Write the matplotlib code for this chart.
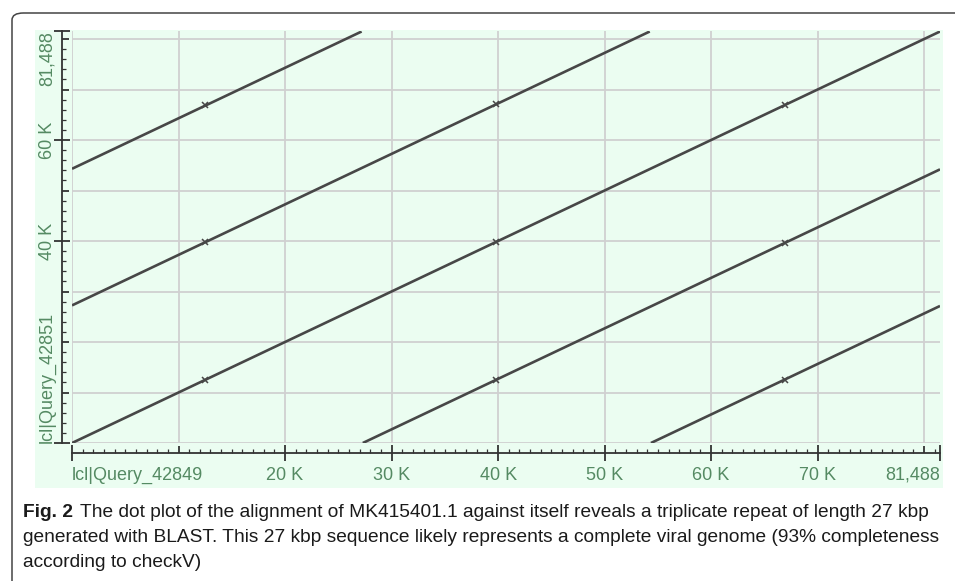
import numpy as np
import matplotlib
matplotlib.use("Agg")
import matplotlib.pyplot as plt
from matplotlib.patches import Rectangle, FancyBboxPatch

# self-alignment of MK415401.1 (81,488 bp) - HSP segments
genome_len = 81488
seg_x0 = [0, 0, 0, 27300, 54350]
seg_y0 = [0, 27250, 54300, 0, 0]
seg_x1 = [81488, 54238, 27188, 81488, 81488]
seg_y1 = [81488, 81488, 81488, 54188, 27138]

# small cross marks where segments join
mark_x = [12500, 39800, 66900, 12500, 39800, 66900, 12500, 39800, 66900]
mark_y = [66850, 67050, 66900, 39750, 39800, 39600, 12500, 12500, 12550]

grid_pos = [0, 10000, 20000, 30000, 40000, 50000, 60000, 70000, 80000]
xtick_pos = grid_pos + [genome_len]
xtick_lab = ["lcl|Query_42849", "", "20 K", "30 K", "40 K", "50 K", "60 K", "70 K", "", "81,488"]
ytick_pos = grid_pos + [genome_len]
ytick_lab = ["lcl|Query_42851", "", "", "", "40 K", "", "60 K", "", "", "81,488"]

caption_bold = "Fig. 2"
caption_lines = [
    "The dot plot of the alignment of MK415401.1 against itself reveals a triplicate repeat of length 27 kbp",
    "generated with BLAST. This 27 kbp sequence likely represents a complete viral genome (93% completeness",
    "according to checkV)",
]

W, H = 955, 581
lab_col = "#558a63"
tick_col = "#333333"
sans = ["Liberation Sans", "DejaVu Sans"]

fig = plt.figure(figsize=(W / 100, H / 100), dpi=100)
fig.patch.set_facecolor("white")

def px(x, y, w, h):
    return (x / W, 1 - (y + h) / H, w / W, h / H)

# outer rounded frame and green chart background
frame = FancyBboxPatch((12 / W, 1 - 600 / H), 980 / W, 587 / H,
                       boxstyle="round,pad=0,rounding_size=0.012",
                       transform=fig.transFigure, fc="none", ec="#444444", lw=1.1, zorder=-1)
fig.patches.append(frame)
gx, gy, gw, gh = px(35, 30, 908, 458)
fig.patches.append(Rectangle((gx, gy), gw, gh, transform=fig.transFigure,
                             fc="#ebfdf1", ec="none", zorder=-2))

ax = fig.add_axes(px(72, 31.5, 868, 411.5))
ax.set_zorder(2)
ax.patch.set_visible(False)

for a, b, c, d in zip(seg_x0, seg_y0, seg_x1, seg_y1):
    ax.plot([a, c], [b, d], color="#474747", lw=1.9, solid_capstyle="butt", zorder=3)
ax.plot(mark_x, mark_y, ls="none", marker="x", ms=5, mew=1.1, color="#474747", zorder=4)

ax.set_xlim(0, genome_len)
ax.set_ylim(0, genome_len)

for s in ["top", "right"]:
    ax.spines[s].set_visible(False)
for s in ["bottom", "left"]:
    ax.spines[s].set_position(("outward", 7.2))
    ax.spines[s].set_color(tick_col)
    ax.spines[s].set_linewidth(1.3)
    ax.spines[s].set_bounds(0, genome_len)

ax.set_xticks(xtick_pos)
ax.set_xticklabels(xtick_lab)
ax.set_yticks(ytick_pos)
ax.set_yticklabels(ytick_lab, rotation=90, va="center")
ax.set_xticks(np.arange(0, genome_len, 1000), minor=True)
ax.set_yticks(np.arange(0, genome_len, 2000), minor=True)

ax.tick_params(which="major", direction="in", length=5, width=1.3, color=tick_col,
               labelcolor=lab_col, labelsize=13)
ax.tick_params(axis="x", which="major", pad=10)
ax.tick_params(axis="y", which="major", pad=4.5)
ax.tick_params(which="minor", direction="in", length=3, width=0.9, color=tick_col)
for t in ax.get_xticklabels() + ax.get_yticklabels():
    t.set_fontfamily(sans)

ax.grid(True, which="major", color="#d0d0d0", lw=1.3)
ax.set_axisbelow(True)

for axis, labs, mk in [(ax.xaxis, xtick_lab, "|"), (ax.yaxis, ytick_lab, "_")]:
    ticks = axis.get_major_ticks()
    for i, (t, lab) in enumerate(zip(ticks, labs)):
        if lab:
            t.tick1line.set_marker(mk)
            t.tick1line.set_markersize(12)
        if i == len(ticks) - 1:
            t.gridline.set_visible(False)

xl = ax.get_xticklabels()
xl[0].set_ha("left")
xl[-1].set_ha("right")
yl = ax.get_yticklabels()
yl[0].set_va("bottom")
yl[-1].set_va("top")

# caption: fit font size so the second line spans the frame width
x0 = 23
fig.canvas.draw()
r = fig.canvas.get_renderer()
probe = fig.text(0, 0, caption_lines[1], fontsize=12, family=sans)
w12 = probe.get_window_extent(r).width
probe.remove()
cap_size = 12 * (944 - x0) / w12

tb = fig.text(x0 / W, 1 - 517 / H, caption_bold, fontsize=cap_size, fontweight="bold",
              family=sans, color="#1a1a1a")
bw = tb.get_window_extent(r).width
fig.text((x0 + bw + 7) / W, 1 - 517 / H, caption_lines[0], fontsize=cap_size,
         family=sans, color="#1a1a1a")
for k, line in enumerate(caption_lines[1:]):
    fig.text(x0 / W, 1 - (542 + 25 * k) / H, line, fontsize=cap_size,
             family=sans, color="#1a1a1a")

fig.savefig("out.png", dpi=100, facecolor="white")
